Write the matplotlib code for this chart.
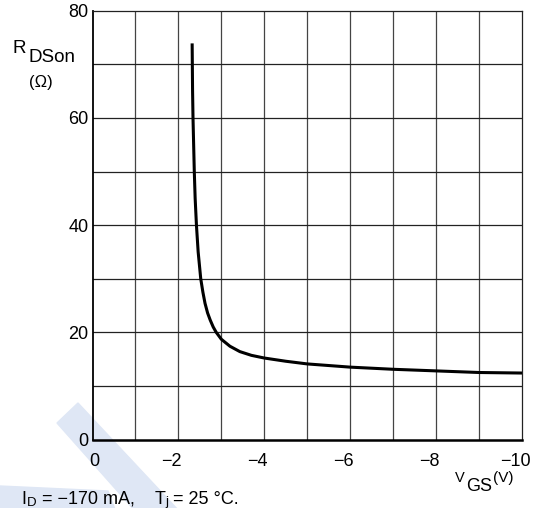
import matplotlib
matplotlib.use("Agg")
import matplotlib.pyplot as plt
from matplotlib.patches import Polygon
from matplotlib.transforms import ScaledTranslation, blended_transform_factory

plt.rcParams['font.family'] = ['Liberation Sans', 'DejaVu Sans']

# Data
vgs = [-2.32, -2.33, -2.34, -2.355, -2.37, -2.39, -2.42, -2.46, -2.52, -2.57,
       -2.62, -2.68, -2.74, -2.81, -2.88, -3.0, -3.2, -3.43, -3.7, -4.0,
       -4.5, -5.0, -5.5, -6.0, -7.0, -8.0, -9.0, -10.0]
rdson = [73.9, 65.0, 60.0, 55.0, 50.0, 45.0, 40.0, 35.0, 30.0, 27.5,
         25.4, 23.6, 22.3, 21.0, 20.0, 18.7, 17.4, 16.4, 15.7, 15.2,
         14.6, 14.1, 13.8, 13.5, 13.1, 12.8, 12.5, 12.4]
x_ticks = [0, -2, -4, -6, -8, -10]
x_labels = ["0", "\u22122", "\u22124", "\u22126", "\u22128", "\u221210"]
y_ticks = [0, 20, 40, 60, 80]
y_labels = ["0", "20", "40", "60", "80"]
x_grid = [-1, -2, -3, -4, -5, -6, -7, -8, -9]
y_grid = [10, 20, 30, 40, 50, 60, 70]

W, H = 542, 508
fig = plt.figure(figsize=(W / 100, H / 100), dpi=100)

def fx(px):
    return px / W

def fy(py):
    return 1 - py / H

# watermark (behind everything)
wm = '#dfe7f5'
fig.patches.append(Polygon([(fx(57), fy(423)), (fx(78), fy(403)), (fx(180), fy(512)), (fx(136), fy(512))],
                           closed=True, transform=fig.transFigure, color=wm, zorder=-5))
fig.patches.append(Polygon([(fx(0), fy(486)), (fx(108), fy(491)), (fx(116), fy(512)), (fx(0), fy(512))],
                           closed=True, transform=fig.transFigure, color=wm, zorder=-5))

left, right, top, bottom = 92.5, 522, 10.7, 439.5
ax = fig.add_axes([fx(left), fy(bottom), fx(right) - fx(left), fy(top) - fy(bottom)])
ax.set_facecolor('none')
ax.set_xlim(0, -10)
ax.set_ylim(0, 80)

for xv in x_grid:
    ax.axvline(xv, color='#444444', lw=0.9, zorder=1)
for yv in y_grid:
    ax.axhline(yv, color='#222222', lw=0.9, zorder=1)

ax.plot(vgs, rdson, color='black', lw=2.2, solid_capstyle='butt', zorder=3)

for s in ['top', 'right']:
    ax.spines[s].set_linewidth(0.9)
    ax.spines[s].set_color('#222222')
ax.spines['left'].set_linewidth(1.3)
ax.spines['bottom'].set_linewidth(1.8)

ax.set_xticks([])
ax.set_yticks(y_ticks)
ax.set_yticklabels(y_labels, fontsize=13)
ax.tick_params(axis='y', length=0, pad=3)

# x tick labels: digits centred on the gridline, minus hanging left
trans = blended_transform_factory(ax.transData, ax.transAxes)
for xv, lab in zip(x_ticks, x_labels):
    dx = -5.0 / 72 if lab.startswith("\u2212") else 1.0 / 72
    t = trans + ScaledTranslation(dx, -10 / 72, fig.dpi_scale_trans)
    ax.text(xv, 0, lab, transform=t, ha='center', va='top', fontsize=13)

# y axis label
fig.text(fx(13), fy(53), "R", fontsize=13.5, ha='left', va='baseline')
fig.text(fx(28), fy(62), "DSon", fontsize=13.5, ha='left', va='baseline')
fig.text(fx(41), fy(87), "(\u03a9)", fontsize=12, ha='center', va='baseline')

# x axis label
fig.text(fx(455), fy(482), "V", fontsize=10.5, ha='left', va='baseline')
fig.text(fx(466), fy(491), "GS", fontsize=13, ha='left', va='baseline')
fig.text(fx(493), fy(482), "(V)", fontsize=11, ha='left', va='baseline')

# conditions
fig.text(fx(21), fy(504), "I", fontsize=13, ha='left', va='baseline')
fig.text(fx(26.5), fy(506), "D", fontsize=9.5, ha='left', va='baseline')
fig.text(fx(42), fy(504), "= \u2212170 mA,", fontsize=13, ha='left', va='baseline')
fig.text(fx(155), fy(504), "T", fontsize=13, ha='left', va='baseline')
fig.text(fx(165.5), fy(505.5), "j", fontsize=9.5, ha='left', va='baseline')
fig.text(fx(173), fy(504), "= 25 \u00b0C.", fontsize=13, ha='left', va='baseline')

fig.savefig("out.png", dpi=100)
